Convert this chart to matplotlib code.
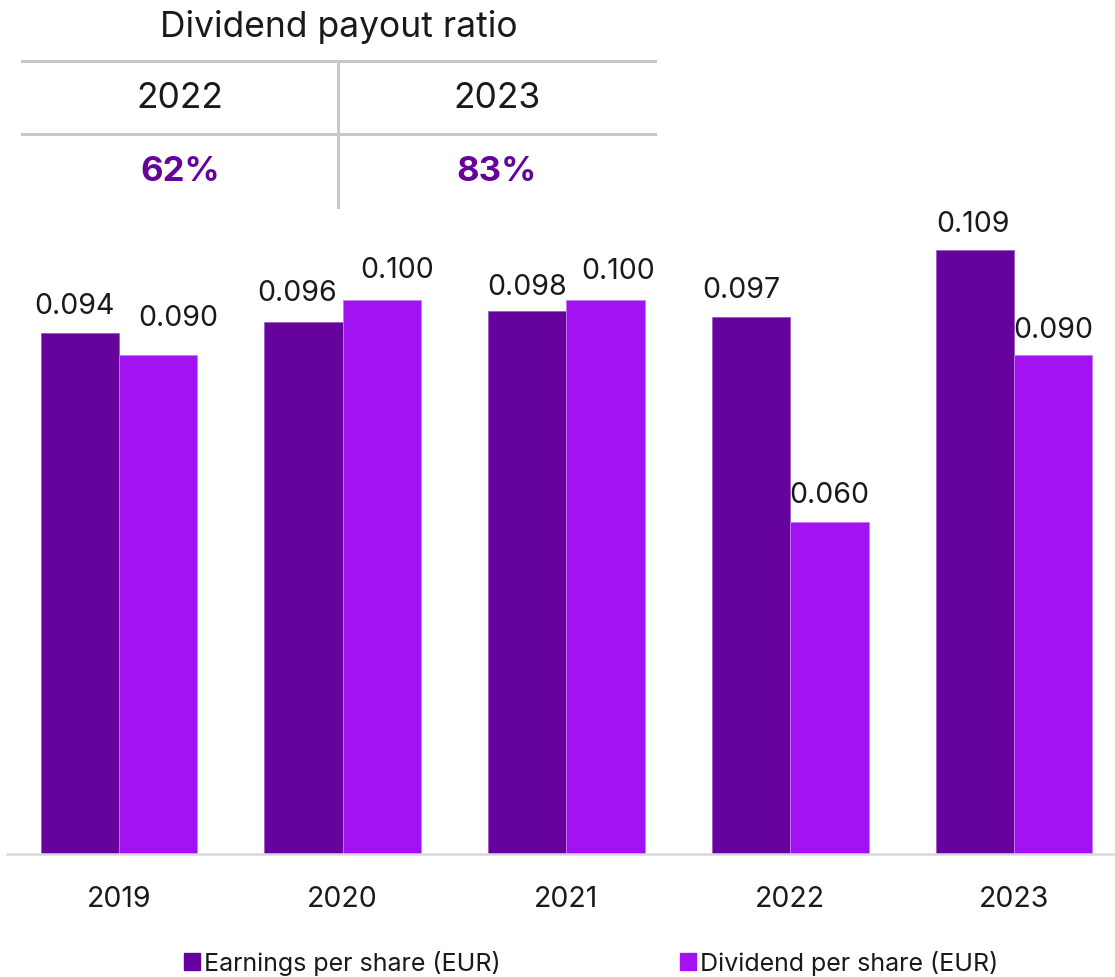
import matplotlib
matplotlib.use("Agg")
import matplotlib.pyplot as plt
from matplotlib.lines import Line2D
from matplotlib.patches import Patch
import numpy as np

years = ["2019", "2020", "2021", "2022", "2023"]
eps = [0.094, 0.096, 0.098, 0.097, 0.109]
dps = [0.090, 0.100, 0.100, 0.060, 0.090]
eps_labels = ["0.094", "0.096", "0.098", "0.097", "0.109"]
dps_labels = ["0.090", "0.100", "0.100", "0.060", "0.090"]
series_names = ["Earnings per share (EUR)", "Dividend per share (EUR)"]
table_title = "Dividend payout ratio"
table_years = ["2022", "2023"]
table_ratios = ["62%", "83%"]

C_DARK = "#66039C"
C_LIGHT = "#A312F0"
FONT = "Inter"
W, H = 1115, 978

plt.rcParams["font.family"] = [FONT, "DejaVu Sans"]
fig = plt.figure(figsize=(W / 100, H / 100), dpi=100)

px_per_unit = 5541.0
base_y = 855
top_y = 210
ax = fig.add_axes([7 / W, 1 - base_y / H, 1 - 7 / W, (base_y - top_y) / H])
x = np.arange(len(years))
bw = 0.35
b1 = ax.bar(x - bw / 2, eps, bw, color=C_DARK, edgecolor="#9a5cc8", linewidth=0.6,
            label=series_names[0])
b2 = ax.bar(x + bw / 2, dps, bw, color=C_LIGHT, edgecolor="#c27cf5", linewidth=0.6,
            label=series_names[1])
ax.set_xlim(-0.5, 4 + (1115 - 1014) / 224)
ax.set_ylim(0, (base_y - top_y) / px_per_unit)
# label nudges in pixels (dx, dy above bar top)
eps_nudge = [(-5, 20), (-6, 22), (0, 17), (-10, 20), (-2, 19)]
dps_nudge = [(20, 30), (15, 23), (12, 22), (0, 20), (0, 18)]
for bars, labs, nudges in [(b1, eps_labels, eps_nudge), (b2, dps_labels, dps_nudge)]:
    for rect, lab, (dx, dy) in zip(bars, labs, nudges):
        ax.annotate(lab, (rect.get_x() + rect.get_width() / 2, rect.get_height()),
                    xytext=(dx * 0.72, dy * 0.72), textcoords="offset points",
                    ha="center", va="baseline", fontsize=20.5, color="#1a1a1a")
for s in ["top", "right", "left"]:
    ax.spines[s].set_visible(False)
ax.spines["bottom"].set_color("#d9d9d9")
ax.spines["bottom"].set_linewidth(1.8)
ax.set_yticks([])
ax.set_xticks(x)
ax.set_xticklabels(years, fontsize=20.5, color="#1a1a1a")
ax.tick_params(axis="x", length=0, pad=22)

# Legend
handles = [Patch(color=C_DARK), Patch(color=C_LIGHT)]
fig.legend(handles, series_names, loc="center", bbox_to_anchor=(591 / W, 1 - 964 / H),
           ncol=2, frameon=False, fontsize=18, handlelength=0.65, handleheight=0.65,
           handletextpad=0.15, columnspacing=7.2, labelcolor="#1a1a1a")

# Table
def fx(px):
    return px / W

def fy(py):
    return 1 - py / H

gray = "#c8c8c8"
fig.add_artist(Line2D([fx(22), fx(655)], [fy(62), fy(62)], color=gray, lw=2.2))
fig.add_artist(Line2D([fx(22), fx(655)], [fy(135), fy(135)], color=gray, lw=2.2))
fig.add_artist(Line2D([fx(338), fx(338)], [fy(62), fy(208)], color=gray, lw=2.2))
fig.text(fx(339), fy(37), table_title, ha="center", va="baseline", fontsize=25.5,
         color="#1a1a1a")
for cx, yr, rt in zip([180, 497], table_years, table_ratios):
    fig.text(fx(cx), fy(108), yr, ha="center", va="baseline", fontsize=25.5, color="#1a1a1a")
    fig.text(fx(cx), fy(181), rt, ha="center", va="baseline", fontsize=25,
             color=C_DARK, fontweight="bold")

fig.savefig("out.png", dpi=100)
